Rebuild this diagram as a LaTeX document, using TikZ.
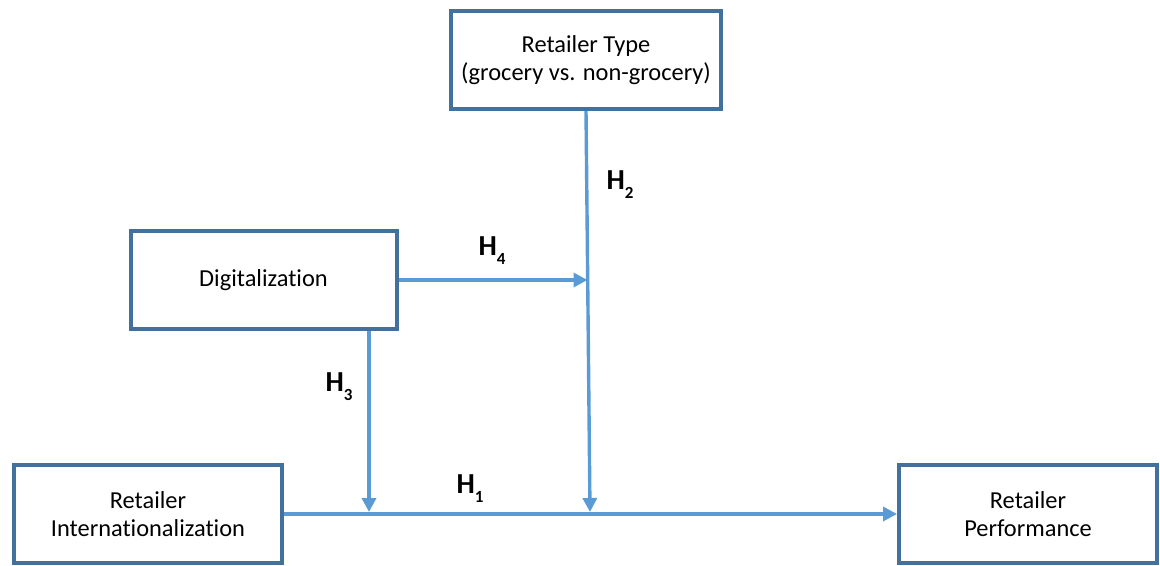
\documentclass[tikz,border=0pt]{standalone}
\usepackage{fontspec}
\setmainfont{Carlito}[Ligatures=NoCommon]
\usetikzlibrary{arrows.meta}

\definecolor{boxblue}{HTML}{41719C}
\definecolor{linkblue}{HTML}{5B9BD5}

\newcommand{\hlabel}[1]{H\raisebox{-4.5pt}{\fontsize{8.5}{9}\selectfont #1}}

\tikzset{
  factor/.style={draw=boxblue, line width=2pt, fill=white, inner sep=0pt,
    minimum height=49pt, align=center,
    font=\fontsize{12.2}{14}\selectfont},
  link/.style={draw=linkblue, line width=1.7pt},
  linkarrow/.style={link, -{Triangle[length=7pt,width=7pt]}},
  hyp/.style={font=\bfseries\fontsize{14.5}{15}\selectfont}
}

\begin{document}
\begin{tikzpicture}[x=0.5pt, y=-0.5pt]
  \useasboundingbox (0,0) rectangle (1160,566);

  % constructs
  \node[factor, minimum width=135pt] (type) at (586,60) {Retailer Type\\(grocery vs. non-grocery)};
  \node[factor, minimum width=133pt] (digital) at (263.5,280) {Digitalization};
  \node[factor, minimum width=134pt] (intl) at (148,514) {Retailer\\Internationalization};
  \node[factor, minimum width=129pt] (perf) at (1028,514) {Retailer\\Performance};

  % points where the moderating arrows meet
  \coordinate (j3) at (369,512);
  \coordinate (j2) at (590,512);
  \coordinate (j4) at (587.5,280);

  % main effect
  \draw[linkarrow] (intl.east) -- (perf.west);
  % moderators
  \draw[linkarrow] (type.south) -- (j2);
  \draw[linkarrow] (digital.east) -- (j4);
  \draw[linkarrow] (j3 |- digital.south) -- (j3);

  % hypothesis labels
  \node[hyp] (h1) at (470,489) {\hlabel{1}};
  \node[hyp] (h2) at (620,185) {\hlabel{2}};
  \node[hyp] (h3) at (339,387) {\hlabel{3}};
  \node[hyp] (h4) at (492,251) {\hlabel{4}};
\end{tikzpicture}
\end{document}
